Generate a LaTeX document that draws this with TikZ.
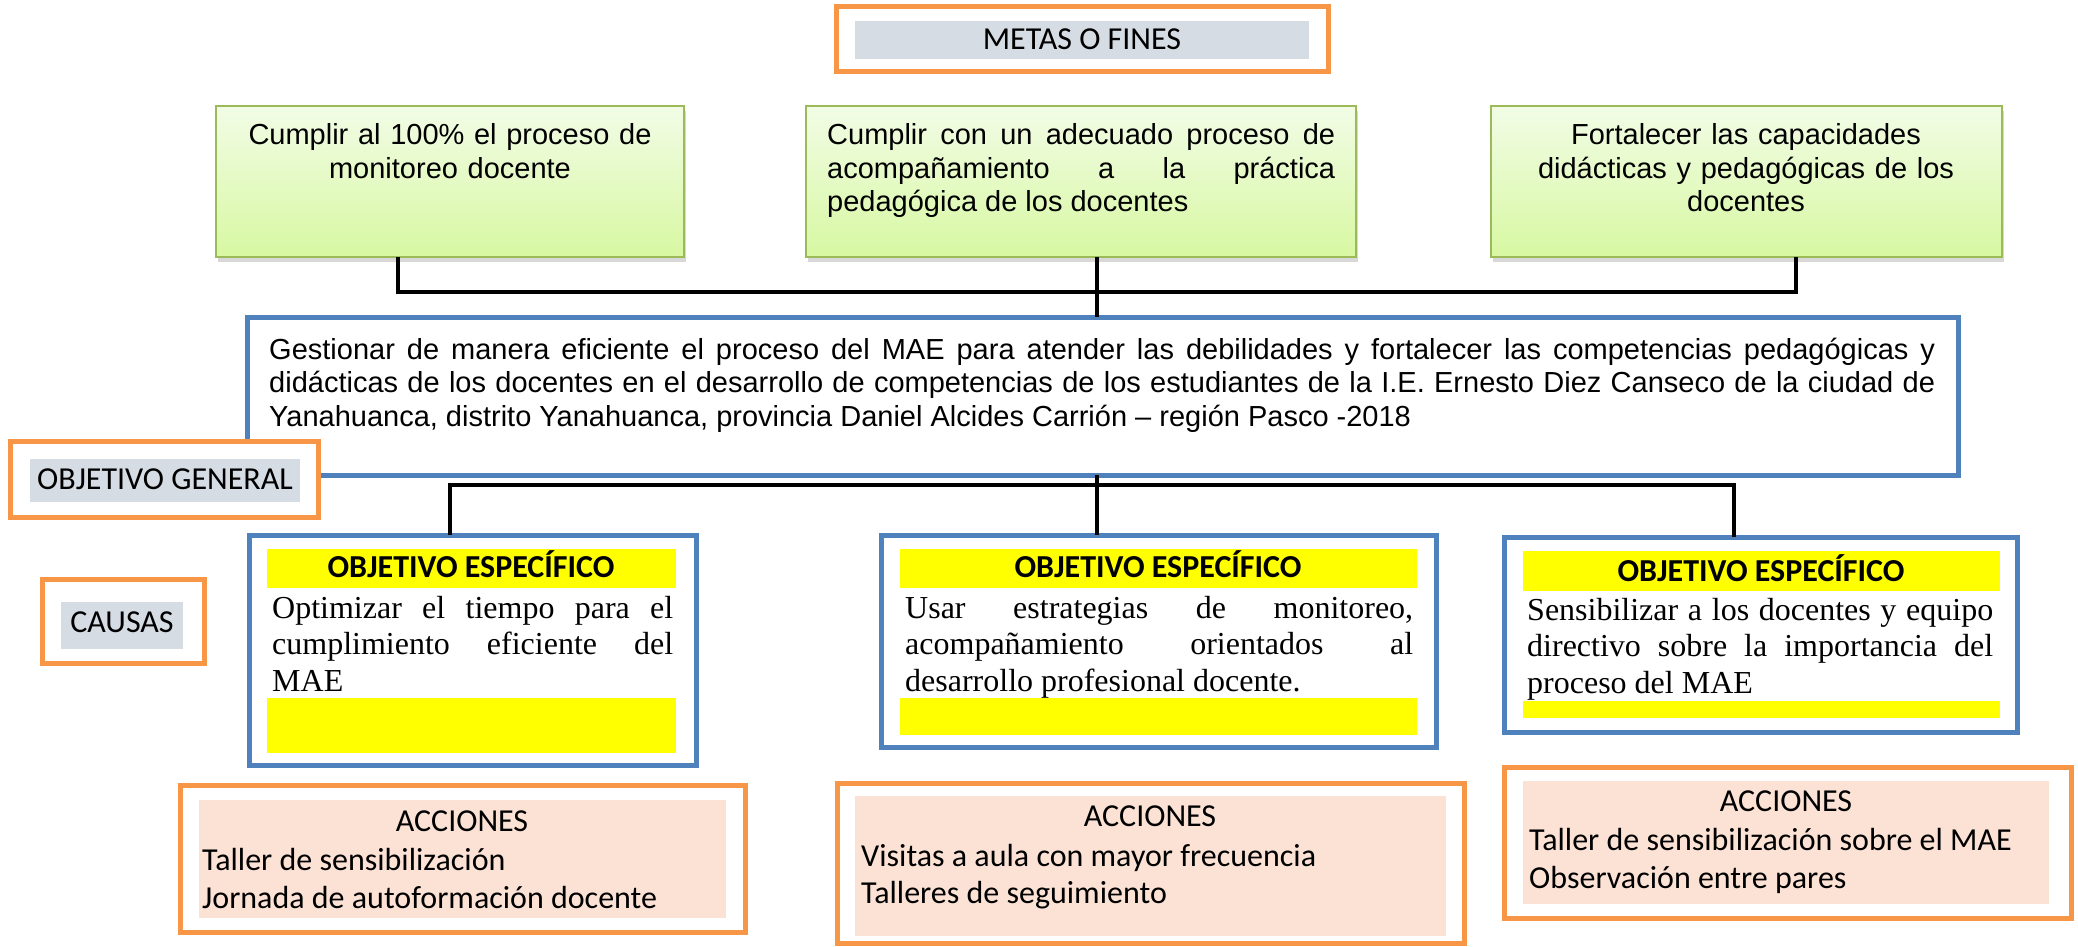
\documentclass[tikz,border=0pt]{standalone}
\usepackage{fontspec}
\setmainfont{Liberation Sans}
\newfontfamily\arialf{Liberation Sans}
\newfontfamily\timesf{Liberation Serif}
\newfontfamily\calf{Carlito}
\usetikzlibrary{shadows}
\definecolor{orng}{HTML}{F79646}
\definecolor{bluebd}{HTML}{4F81BD}
\definecolor{graylbl}{HTML}{D6DCE4}
\definecolor{greenbd}{HTML}{9BBB59}
\definecolor{greentop}{HTML}{F2FCE6}
\definecolor{greenbot}{HTML}{D7F8A2}
\definecolor{peach}{HTML}{FBE2D5}
\definecolor{yel}{HTML}{FFFF00}
\tikzset{
 boxbase/.style={rectangle, anchor=north west, inner sep=0pt, outer sep=0pt},
 orangebox/.style={boxbase, draw=orng, line width=5pt, fill=white},
 graylabel/.style={boxbase, fill=graylbl},
 greenbox/.style={boxbase, draw=greenbd, line width=2pt, top color=greentop, bottom color=greenbot, drop shadow={shadow xshift=2pt, shadow yshift=-5pt, opacity=0.3, fill=gray}},
 bluebox/.style={boxbase, draw=bluebd, line width=5pt, fill=white},
 yellowbar/.style={boxbase, fill=yel},
 peachbox/.style={boxbase, fill=peach},
 conn/.style={draw=black, line width=4pt},
 caltext/.style={font=\calf\fontsize{32}{39}\selectfont, inner sep=0pt, anchor=base},
 calitem/.style={font=\calf\fontsize{32}{39}\selectfont, inner sep=0pt, anchor=base west},
 calbold/.style={font=\calf\bfseries\fontsize{32}{39}\selectfont, inner sep=0pt, anchor=base},
 ariatext/.style={font=\arialf\fontsize{29}{33.5}\selectfont, inner sep=0pt},
 timestext/.style={font=\timesf\fontsize{32}{36.5}\selectfont, inner sep=0pt, anchor=base west, align=justify},
}
\begin{document}
\begin{tikzpicture}[x=1pt,y=-1pt]
\useasboundingbox[fill=white] (0,0) rectangle (2078,947);

% METAS O FINES
\node[orangebox, minimum width=492, minimum height=65] (metas) at (836,7) {};
\node[graylabel, minimum width=454, minimum height=38] (metasbg) at (855,21) {};
\node[caltext] (metastx) at (1082,50) {METAS O FINES};

% green boxes
\node[greenbox, minimum width=468, minimum height=151] (g1) at (216,106) {};
\node[greenbox, minimum width=550, minimum height=151] (g2) at (806,106) {};
\node[greenbox, minimum width=511, minimum height=151] (g3) at (1491,106) {};
\node[ariatext, anchor=base, text width=460, align=center] (g1t) at (450,145) {Cumplir al 100\% el proceso de\\monitoreo docente};
\node[ariatext, anchor=base west, text width=508, align=justify] (g2t) at (827,145) {Cumplir con un adecuado proceso de\linebreak acompañamiento a la práctica\linebreak pedagógica de los docentes};
\node[ariatext, anchor=base, text width=490, align=center] (g3t) at (1746,145) {Fortalecer las capacidades\\didácticas y pedagógicas de los\\docentes};

% general objective
\node[bluebox, minimum width=1711, minimum height=158] (gen) at (247,317) {};
\node[ariatext, anchor=base west, text width=1666, align=justify] (gent) at (269,359) {Gestionar de manera eficiente el proceso del MAE para atender las debilidades y fortalecer las competencias pedagógicas y\linebreak didácticas de los docentes en el desarrollo de competencias de los estudiantes de la I.E. Ernesto Diez Canseco de la ciudad de\linebreak Yanahuanca, distrito Yanahuanca, provincia Daniel Alcides Carrión – región Pasco -2018};

\node[orangebox, minimum width=308, minimum height=76] (og) at (10,441) {};
\node[graylabel, minimum width=270, minimum height=43] (ogbg) at (30,459) {};
\node[caltext] (ogtx) at (165,489) {OBJETIVO GENERAL};

% connectors top
\coordinate (c1) at (398,292);
\coordinate (c3) at (1796,292);
\coordinate (mid) at (1097,300);
\draw[conn] (g1.south -| c1) -- (c1) -- (c3) -- (g3.south -| c3);
\draw[conn] (g2.south -| mid) -- (gen.north -| mid);

% specific objectives
\node[bluebox, minimum width=447, minimum height=230] (sa) at (249,535) {};
\node[bluebox, minimum width=555, minimum height=212] (sb) at (881,535) {};
\node[bluebox, minimum width=513, minimum height=195] (sc) at (1504,537) {};
\node[yellowbar, minimum width=409, minimum height=39] (sah) at (267,549) {};
\node[yellowbar, minimum width=409, minimum height=55] (saf) at (267,698) {};
\node[yellowbar, minimum width=517, minimum height=39] (sbh) at (900,549) {};
\node[yellowbar, minimum width=517, minimum height=37] (sbf) at (900,698) {};
\node[yellowbar, minimum width=477, minimum height=40] (sch) at (1523,551) {};
\node[yellowbar, minimum width=477, minimum height=17] (scf) at (1523,701) {};
\node[calbold] (saht) at (471,577) {OBJETIVO ESPECÍFICO};
\node[calbold] (sbht) at (1158,577) {OBJETIVO ESPECÍFICO};
\node[calbold] (scht) at (1761,581) {OBJETIVO ESPECÍFICO};
\node[timestext, text width=401] (sat) at (272,618) {Optimizar el tiempo para el\linebreak cumplimiento eficiente del\linebreak MAE};
\node[timestext, text width=508] (sbt) at (905,618) {Usar estrategias de monitoreo,\linebreak acompañamiento orientados al\linebreak desarrollo profesional docente.};
\node[timestext, text width=466] (sct) at (1527,620) {Sensibilizar a los docentes y equipo\linebreak directivo sobre la importancia del\linebreak proceso del MAE};

% connectors bottom
\coordinate (d1) at (450,485);
\coordinate (d3) at (1734,485);
\draw[conn] (sa.north -| d1) -- (d1) -- (d3) -- (sc.north -| d3);
\draw[conn] (gen.south -| mid) -- (sb.north -| mid);

% CAUSAS
\node[orangebox, minimum width=162, minimum height=84] (causas) at (42,579) {};
\node[graylabel, minimum width=122, minimum height=47] (causasbg) at (61,602) {};
\node[caltext] (causastx) at (122,632) {CAUSAS};

% ACCIONES
\node[orangebox, minimum width=565, minimum height=147] (aa) at (180,785) {};
\node[peachbox, minimum width=527, minimum height=118] (aap) at (199,800) {};
\node[caltext] (aat) at (462,831) {ACCIONES};
\node[calitem] (aa1) at (202,870) {Taller de sensibilización};
\node[calitem] (aa2) at (202,908) {Jornada de autoformación docente};

\node[orangebox, minimum width=627, minimum height=160] (ab) at (837,783) {};
\node[peachbox, minimum width=591, minimum height=140] (abp) at (855,796) {};
\node[caltext] (abt) at (1150,826) {ACCIONES};
\node[calitem] (ab1) at (861,866) {Visitas a aula con mayor frecuencia};
\node[calitem] (ab2) at (861,903) {Talleres de seguimiento};

\node[orangebox, minimum width=567, minimum height=151] (ac) at (1504,767) {};
\node[peachbox, minimum width=526, minimum height=123] (acp) at (1523,781) {};
\node[caltext] (act) at (1786,811) {ACCIONES};
\node[calitem] (ac1) at (1529,850) {Taller de sensibilización sobre el MAE};
\node[calitem] (ac2) at (1529,888) {Observación entre pares};
\end{tikzpicture}
\end{document}
